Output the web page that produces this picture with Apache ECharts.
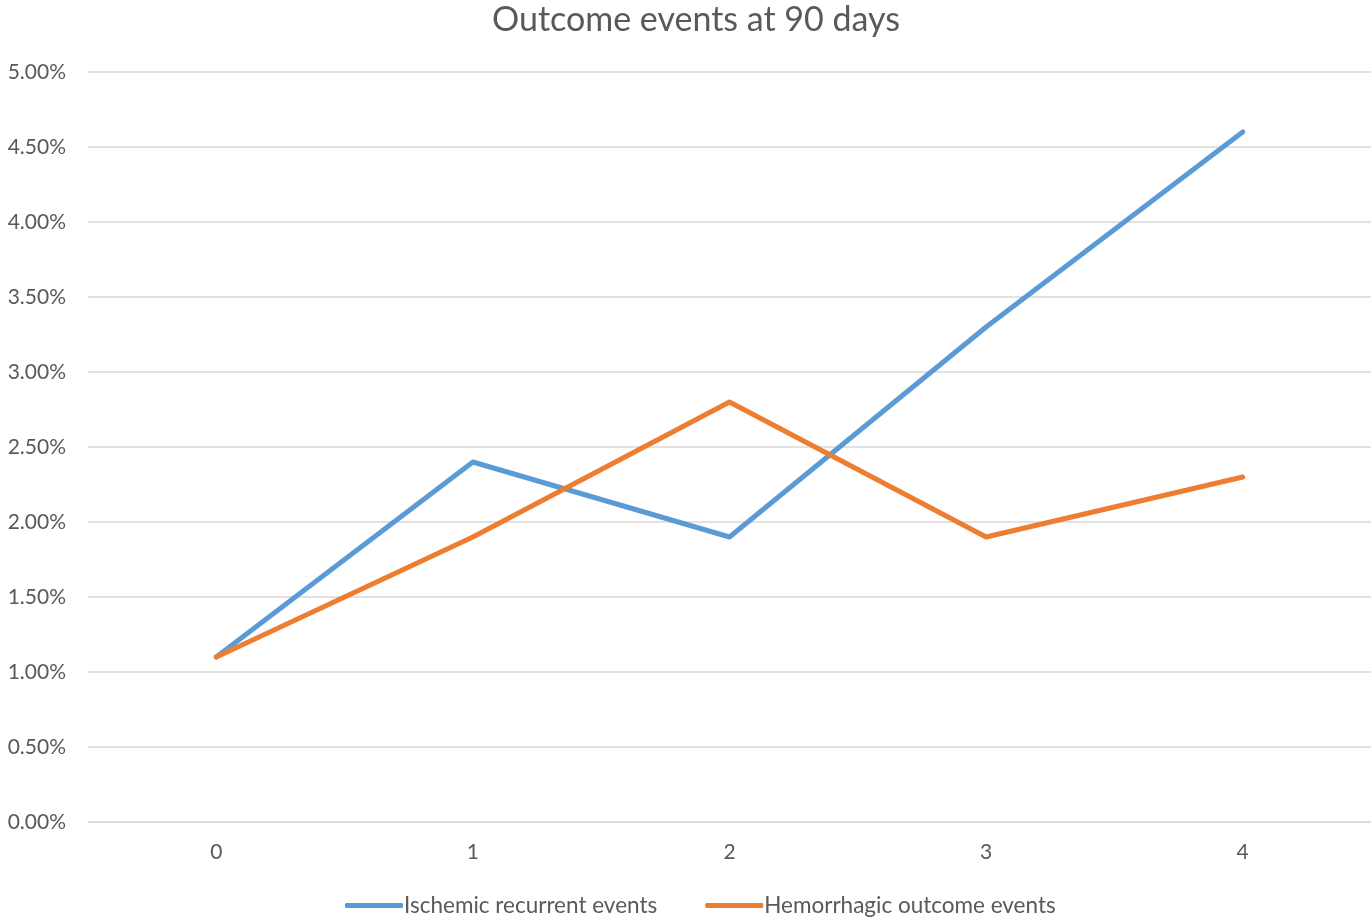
<!DOCTYPE html>
<html>
<head>
<meta charset="utf-8">
<script src="https://cdn.jsdelivr.net/npm/echarts@6/dist/echarts.min.js"></script>
<style>
  html, body { margin: 0; padding: 0; background: #fff; }
  #chart { width: 1371px; height: 922px; }
</style>
</head>
<body>
<div id="chart"></div>
<script>
// Outcome event rates (%) by category
const categories = ['0', '1', '2', '3', '4'];
const ischemic = [1.1, 2.4, 1.9, 3.3, 4.6];
const hemorrhagic = [1.1, 1.9, 2.8, 1.9, 2.3];
const seriesNames = ['Ischemic recurrent events', 'Hemorrhagic outcome events'];

const FONT = 'Lato, "Liberation Sans", sans-serif';
const TEXT = '#595959';

const chart = echarts.init(document.getElementById('chart'));
chart.setOption({
  animation: false,
  backgroundColor: '#ffffff',
  textStyle: { fontFamily: FONT },
  title: {
    text: 'Outcome events at 90 days',
    left: 487,
    top: -2,
    textStyle: { fontFamily: FONT, fontSize: 34, fontWeight: 'normal', color: TEXT }
  },
  legend: {
    bottom: 0,
    left: 340,
    itemWidth: 58,
    itemHeight: 5,
    itemGap: 48,
    icon: 'roundRect',
    textStyle: { fontFamily: FONT, fontSize: 22.5, color: TEXT, padding: [0, 0, 0, -4] },
    data: seriesNames
  },
  grid: { left: 88, right: 0, top: 72, bottom: 100, containLabel: false },
  xAxis: {
    type: 'category',
    data: categories,
    boundaryGap: true,
    axisLine: { show: true, lineStyle: { color: '#d9d9d9', width: 1.5 } },
    axisTick: { show: false },
    axisLabel: { fontFamily: FONT, fontSize: 21, color: TEXT, margin: 20 }
  },
  yAxis: {
    type: 'value',
    min: 0,
    max: 5,
    interval: 0.5,
    axisLine: { show: false },
    axisTick: { show: false },
    splitLine: { lineStyle: { color: '#d9d9d9', width: 1.5 } },
    axisLabel: {
      fontFamily: FONT, fontSize: 21, color: TEXT, margin: 22,
      formatter: v => v.toFixed(2) + '%'
    }
  },
  series: [
    {
      name: seriesNames[0],
      type: 'line',
      data: ischemic,
      symbol: 'none',
      lineStyle: { color: '#5b9bd5', width: 5, cap: 'round', join: 'round' },
      itemStyle: { color: '#5b9bd5' }
    },
    {
      name: seriesNames[1],
      type: 'line',
      data: hemorrhagic,
      symbol: 'none',
      lineStyle: { color: '#ed7d31', width: 5, cap: 'round', join: 'round' },
      itemStyle: { color: '#ed7d31' }
    }
  ]
});
</script>
</body>
</html>
